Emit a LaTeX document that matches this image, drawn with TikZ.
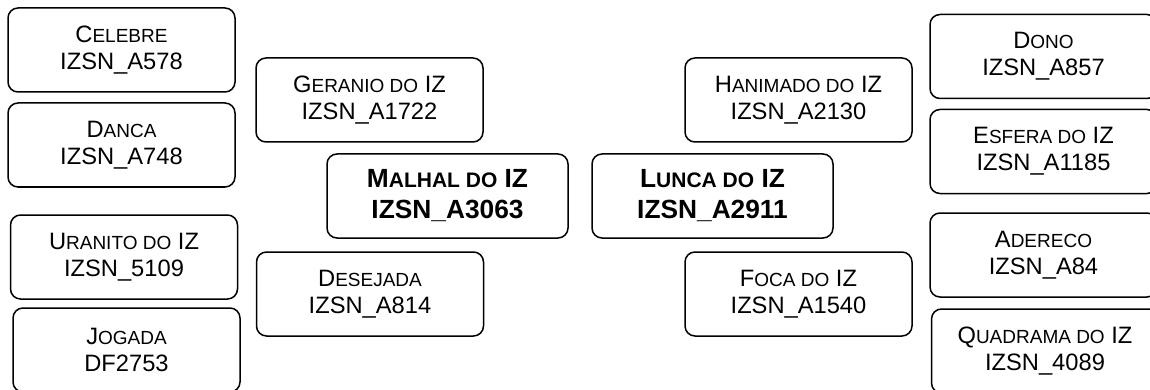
\documentclass[tikz,border=0pt]{standalone}
\usepackage{fontspec}
\setmainfont{Liberation Sans}
\newcommand{\mysc}[2]{#1{\fontsize{19}{27}\selectfont #2}}
\newcommand{\mybsc}[2]{#1{\fontsize{21}{31}\selectfont #2}}
\tikzset{
  box/.style={draw=black, line width=1.5pt, rounded corners=10pt, minimum width=227pt,
    minimum height=84pt, align=center, inner sep=0pt, text=black,
    font=\fontsize{23.7}{27}\selectfont},
  mainbox/.style={box, minimum width=241pt, font=\fontsize{26.3}{31}\selectfont\bfseries}
}
\begin{document}
\begin{tikzpicture}[x=1pt,y=-1pt]
\useasboundingbox (0,0) rectangle (1150,390);
\clip (0,0) rectangle (1150,390);
% left column
\node[box] (celebre) at (121.5,50) {\mysc{C}{ELEBRE}\\IZSN\_A578};
\node[box] (danca) at (121.5,145) {\mysc{D}{ANCA}\\IZSN\_A748};
\node[box] (uranito) at (124,257) {\mysc{U}{RANITO DO} IZ\\IZSN\_5109};
\node[box] (jogada) at (126.5,350) {\mysc{J}{OGADA}\\DF2753};
% middle left
\node[box] (geranio) at (369.5,100) {\mysc{G}{ERANIO DO} IZ\\IZSN\_A1722};
\node[box] (desejada) at (370,294) {\mysc{D}{ESEJADA}\\IZSN\_A814};
% centre
\node[mainbox] (malhal) at (447.5,196) {\mybsc{M}{ALHAL DO} IZ\\IZSN\_A3063};
\node[mainbox] (lunca) at (712.5,196) {\mybsc{L}{UNCA DO} IZ\\IZSN\_A2911};
% middle right
\node[box] (hanimado) at (798.5,100) {\mysc{H}{ANIMADO DO} IZ\\IZSN\_A2130};
\node[box] (foca) at (798.5,294) {\mysc{F}{OCA DO} IZ\\IZSN\_A1540};
% right column
\node[box] (dono) at (1043.5,56.5) {\mysc{D}{ONO}\\IZSN\_A857};
\node[box] (esfera) at (1043.5,151.5) {\mysc{E}{SFERA DO} IZ\\IZSN\_A1185};
\node[box] (adereco) at (1043.5,255) {\mysc{A}{DERECO}\\IZSN\_A84};
\node[box] (quadrama) at (1045,351) {\mysc{Q}{UADRAMA DO} IZ\\IZSN\_4089};
\end{tikzpicture}
\end{document}
